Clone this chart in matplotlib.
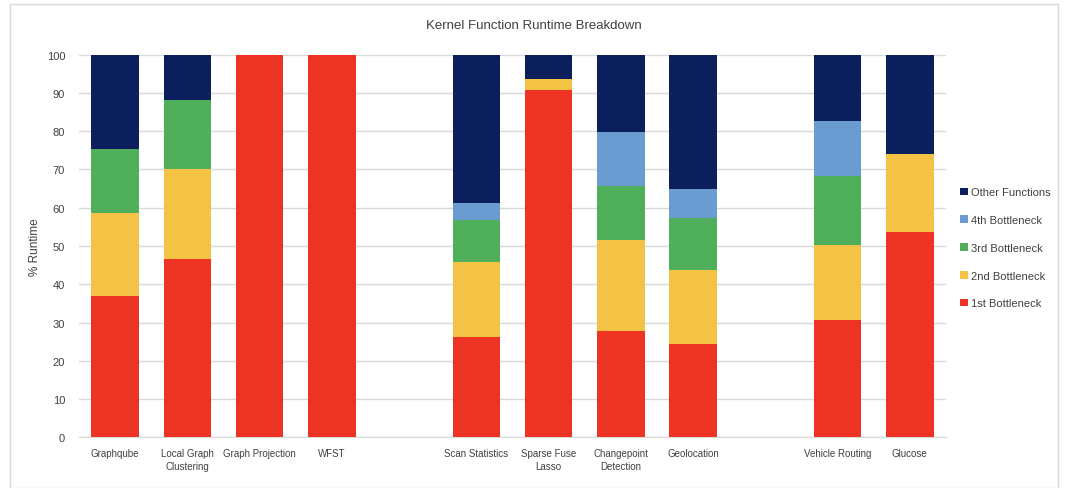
import matplotlib
matplotlib.use("Agg")
import matplotlib.pyplot as plt
from matplotlib.patches import Rectangle

plt.rcParams['font.family'] = ['Liberation Sans Narrow', 'Liberation Sans', 'DejaVu Sans']

# three groups of kernels, separated by an empty slot
groups = [
    ["Graphqube", "Local Graph\nClustering", "Graph Projection", "WFST"],
    ["Scan Statistics", "Sparse Fuse\nLasso", "Changepoint\nDetection", "Geolocation"],
    ["Vehicle Routing", "Glucose"],
]
first  = [37.0, 46.5, 100, 100, 26.3, 90.7, 27.7, 24.5, 30.6, 53.6]
second = [21.7, 23.6, 0, 0, 19.5, 2.9, 23.9, 19.1, 19.6, 20.5]
third  = [16.6, 18.0, 0, 0, 11.0, 0, 14.1, 13.6, 18.1, 0]
fourth = [0, 0, 0, 0, 4.4, 0, 14.0, 7.7, 14.3, 0]
other  = [24.7, 11.9, 0, 0, 38.8, 6.4, 20.3, 35.1, 17.4, 25.9]

series = [("1st Bottleneck", first, "#EC3324"),
          ("2nd Bottleneck", second, "#F4C244"),
          ("3rd Bottleneck", third, "#4FAF5B"),
          ("4th Bottleneck", fourth, "#6A9BD1"),
          ("Other Functions", other, "#0A1F5C")]

labels = []
xs = []
pos = 0
for g in groups:
    for name in g:
        labels.append(name)
        xs.append(pos)
        pos += 1
    pos += 1  # gap slot

fig = plt.figure(figsize=(10.68, 4.89), dpi=100)
fig.patches.append(Rectangle((10 / 1068, 0.0), 1048 / 1068, 1 - 5 / 489,
                             transform=fig.transFigure, fill=False,
                             edgecolor="#D9D9D9", linewidth=1))
ax = fig.add_axes([79 / 1068, 1 - 438.3 / 489, 867 / 1068, 382.6 / 489])

bottom = [0.0] * len(xs)
handles = []
for name, vals, col in series:
    b = ax.bar(xs, vals, width=0.66, bottom=bottom, color=col, label=name,
               linewidth=0, zorder=3)
    handles.append(b)
    bottom = [bb + v for bb, v in zip(bottom, vals)]

ax.set_xlim(-0.5, pos - 1.5)
ax.set_ylim(0, 100)
ax.set_yticks(range(0, 101, 10))
ax.set_xticks(xs)
ax.set_xticklabels(labels, fontsize=7, color="#404040", linespacing=1.35)
ax.tick_params(axis="y", labelsize=8, colors="#404040", length=0, pad=10)
ax.tick_params(axis="x", length=0, pad=8)
ax.grid(axis="y", color="#D9D9D9", linewidth=1, zorder=0)
for s in ["top", "right", "left"]:
    ax.spines[s].set_visible(False)
ax.spines["bottom"].set_color("#D9D9D9")
ax.set_ylabel("% Runtime", fontsize=8.5, color="#404040", labelpad=4)

fig.text(0.5, 1 - 26 / 489, "Kernel Function Runtime Breakdown", ha="center",
         va="center", fontsize=9.5, color="#404040")

leg = ax.legend(handles[::-1], [s[0] for s in series][::-1],
                loc="center left", bbox_to_anchor=(1.005, 0.495),
                frameon=False, fontsize=8, handlelength=0.7, handleheight=0.7,
                handletextpad=0.3, labelspacing=1.6)
for t in leg.get_texts():
    t.set_color("#404040")

fig.savefig("out.png", dpi=100)
